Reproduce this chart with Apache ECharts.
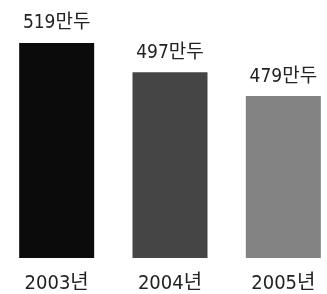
<!DOCTYPE html>
<html>
<head>
<meta charset="utf-8">
<script src="https://cdn.jsdelivr.net/npm/echarts@6/dist/echarts.min.js"></script>
<style>
  html, body { margin: 0; padding: 0; background: #fff; }
  #chart { width: 327px; height: 294px; }
</style>
</head>
<body>
<div id="chart"></div>
<script>
const years = ['2003년', '2004년', '2005년']
const heads = [519, 497, 479]   // 만두
const barColors = ['#0b0b0b', '#454545', '#838383']

const font = '"DejaVu Sans Condensed", "Noto Sans CJK KR", sans-serif'

const myChart = echarts.init(document.getElementById('chart'))
myChart.setOption({
  animation: false,
  grid: { left: 0, top: 43, right: -13, bottom: 36, containLabel: false, outerBoundsMode: 'none' },
  xAxis: {
    type: 'category',
    data: years,
    axisLine: { show: false },
    axisTick: { show: false },
    axisLabel: { margin: 16, fontSize: 20, color: '#222', fontFamily: font }
  },
  yAxis: {
    type: 'value',
    min: 357,
    max: 519,
    show: false
  },
  series: [{
    type: 'bar',
    barWidth: 75,
    data: heads.map((v, i) => ({ value: v, itemStyle: { color: barColors[i] } })),
    label: {
      show: true,
      position: 'top',
      distance: 10,
      fontSize: 19,
      color: '#222',
      fontFamily: font,
      formatter: p => p.value + '만두'
    }
  }]
})
</script>
</body>
</html>
